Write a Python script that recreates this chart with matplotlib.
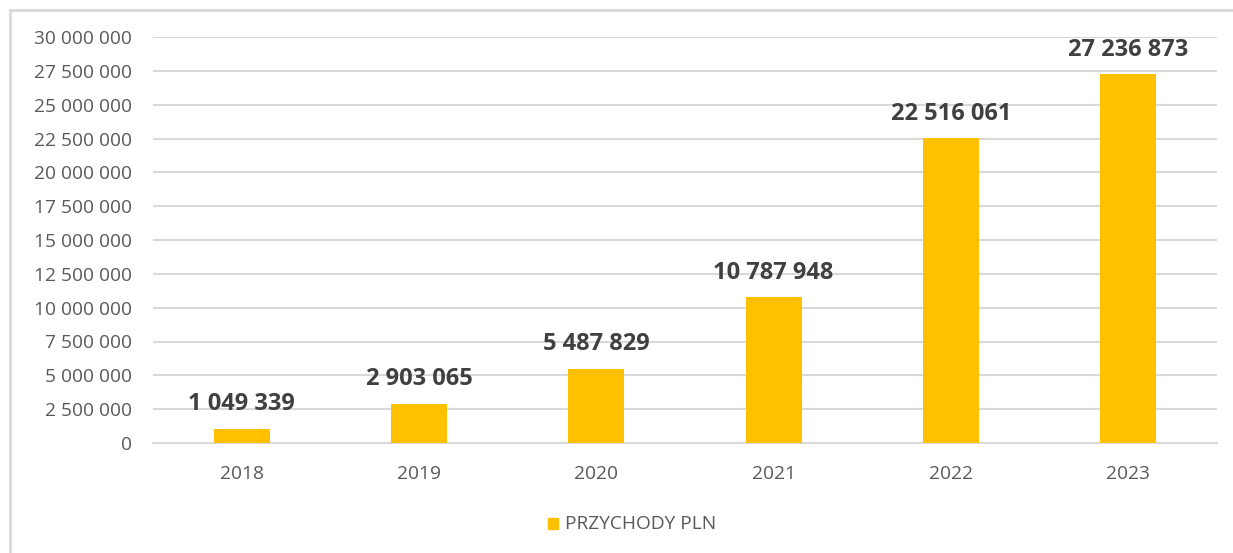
import matplotlib.pyplot as plt
from matplotlib.patches import Rectangle
from matplotlib.lines import Line2D
from matplotlib.ticker import FuncFormatter

years = ["2018", "2019", "2020", "2021", "2022", "2023"]
revenues = [1049339, 2903065, 5487829, 10787948, 22516061, 27236873]
series_name = "PRZYCHODY PLN"

BAR = "#FFC000"
GRID = "#D9D9D9"
TXT = "#595959"
LBL = "#404040"
FONT = ["Open Sans", "DejaVu Sans"]

plt.rcParams['font.family'] = FONT

fig = plt.figure(figsize=(12.33, 5.53), dpi=100)
ax = fig.add_axes([153/1233, 1 - 443/553, (1217-153)/1233, (443-37)/553])

x = list(range(len(years)))
ax.bar(x, revenues, width=0.315, color=BAR, zorder=3)
ax.set_xlim(-0.5, len(years) - 0.5)
ax.set_ylim(0, 30000000)
ax.set_yticks(range(0, 30000001, 2500000))
ax.yaxis.set_major_formatter(FuncFormatter(lambda v, p: f"{int(v):,}".replace(",", " ")))
ax.set_xticks(x)
ax.set_xticklabels(years)
ax.tick_params(axis='both', length=0, labelsize=13.8, colors=TXT)
ax.tick_params(axis='y', pad=15)
ax.tick_params(axis='x', pad=16)
ax.grid(axis='y', color=GRID, linewidth=1.5, zorder=0)
for s in ['top', 'right', 'left']:
    ax.spines[s].set_visible(False)
ax.spines['bottom'].set_color(GRID)
ax.spines['bottom'].set_linewidth(1.5)

for xi, v in zip(x, revenues):
    ax.annotate(f"{v:,}".replace(",", " "), (xi, v), xytext=(0, 9), textcoords='offset points',
                ha='center', va='bottom', fontsize=17, fontweight='bold', color=LBL)

# legend
fig.patches.append(Rectangle((548/1233, 1 - 529/553), 10/1233, 11/553, transform=fig.transFigure,
                             color=BAR))
fig.text(565/1233, 1 - 524/553, series_name, fontsize=13.8, color=TXT, va='center', ha='left')

# chart border (left and top)
fig.lines.append(Line2D([10/1233, 10/1233], [0, 1 - 10/553], transform=fig.transFigure, color=GRID, linewidth=2))
fig.lines.append(Line2D([10/1233, 1], [1 - 10/553, 1 - 10/553], transform=fig.transFigure, color=GRID, linewidth=2))

fig.savefig("out.png", dpi=100)
